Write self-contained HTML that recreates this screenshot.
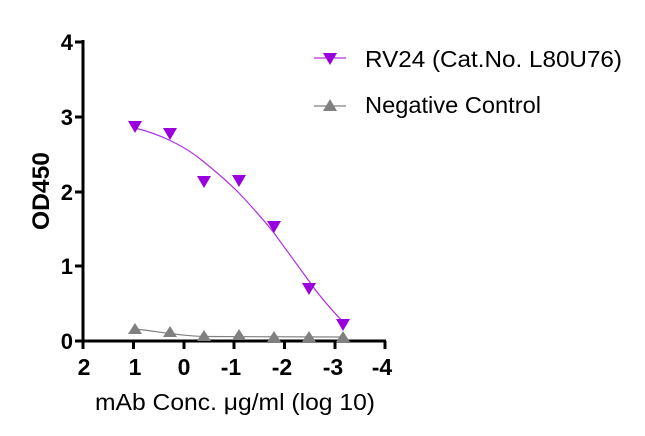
<!DOCTYPE html>
<html><head><style>body{margin:0;background:#fff}svg{display:block}</style></head><body>
<svg width="645" height="436" viewBox="0 0 645 436" xmlns="http://www.w3.org/2000/svg" font-family="Liberation Sans, Arial, sans-serif">
<g stroke="#000" stroke-width="3" fill="none">
<line x1="83" y1="40" x2="83" y2="342.5"/>
<line x1="81.5" y1="341" x2="386" y2="341"/>
</g>
<g stroke="#000" stroke-width="3">
<line x1="75" y1="42" x2="83" y2="42"/><line x1="75" y1="117" x2="83" y2="117"/><line x1="75" y1="192" x2="83" y2="192"/><line x1="75" y1="266" x2="83" y2="266"/><line x1="75" y1="341" x2="83" y2="341"/>
<line x1="83" y1="341" x2="83" y2="349"/><line x1="133.5" y1="341" x2="133.5" y2="349"/><line x1="184" y1="341" x2="184" y2="349"/><line x1="234" y1="341" x2="234" y2="349"/><line x1="284.5" y1="341" x2="284.5" y2="349"/><line x1="335" y1="341" x2="335" y2="349"/><line x1="385" y1="341" x2="385" y2="349"/>
</g>
<g font-size="22" font-weight="bold" text-anchor="end">
<text x="73" y="50">4</text><text x="73" y="125">3</text><text x="73" y="200">2</text><text x="73" y="274">1</text><text x="73" y="349">0</text>
</g>
<g font-size="23" font-weight="bold" text-anchor="middle">
<text x="84" y="375">2</text><text x="135" y="375">1</text><text x="184" y="375">0</text><text x="231" y="375">-1</text><text x="282" y="375">-2</text><text x="333" y="375">-3</text><text x="382" y="375">-4</text>
</g>
<text x="95" y="410" font-size="23" textLength="280" lengthAdjust="spacingAndGlyphs">mAb Conc. μg/ml (log 10)</text>
<text transform="translate(49,191) rotate(-90)" font-size="24" font-weight="bold" text-anchor="middle" textLength="78" lengthAdjust="spacingAndGlyphs">OD450</text>
<path d="M135,128 C160,134 185,146 204,162 C220,175 232,186 239,193 C252,207 264,220 274,233 C288,252 298,266 309,281 C320,297 332,310 343,322" stroke="#b030e0" stroke-width="1.2" fill="none"/>
<path d="M135,329 C155,331 180,336 204,336.5 L343,337" stroke="#808080" stroke-width="1.2" fill="none"/>
<g fill="#9900dd">
<path d="M128,121 h14 l-7,12z"/><path d="M163,128 h14 l-7,12z"/><path d="M197,176 h14 l-7,12z"/><path d="M232,175 h14 l-7,12z"/><path d="M267,221 h14 l-7,12z"/><path d="M302,283 h14 l-7,12z"/><path d="M336,319 h14 l-7,12z"/>
</g>
<g fill="#808080">
<path d="M128,334 h14 l-7,-11z"/><path d="M163,337 h14 l-7,-11z"/><path d="M197,341 h14 l-7,-11z"/><path d="M232,340 h14 l-7,-11z"/><path d="M267,342 h14 l-7,-11z"/><path d="M302,342 h14 l-7,-11z"/><path d="M336,342 h14 l-7,-11z"/>
</g>
<line x1="314" y1="58" x2="346" y2="58" stroke="#b030e0" stroke-width="1.2"/>
<path d="M323,53 h14 l-7,12z" fill="#9900dd"/>
<text x="365" y="67" font-size="23" textLength="257" lengthAdjust="spacingAndGlyphs">RV24 (Cat.No. L80U76)</text>
<line x1="314" y1="106" x2="346" y2="106" stroke="#808080" stroke-width="1.2"/>
<path d="M323,111 h14 l-7,-12z" fill="#808080"/>
<text x="365" y="113" font-size="23" textLength="176" lengthAdjust="spacingAndGlyphs">Negative Control</text>
</svg>
</body></html>
